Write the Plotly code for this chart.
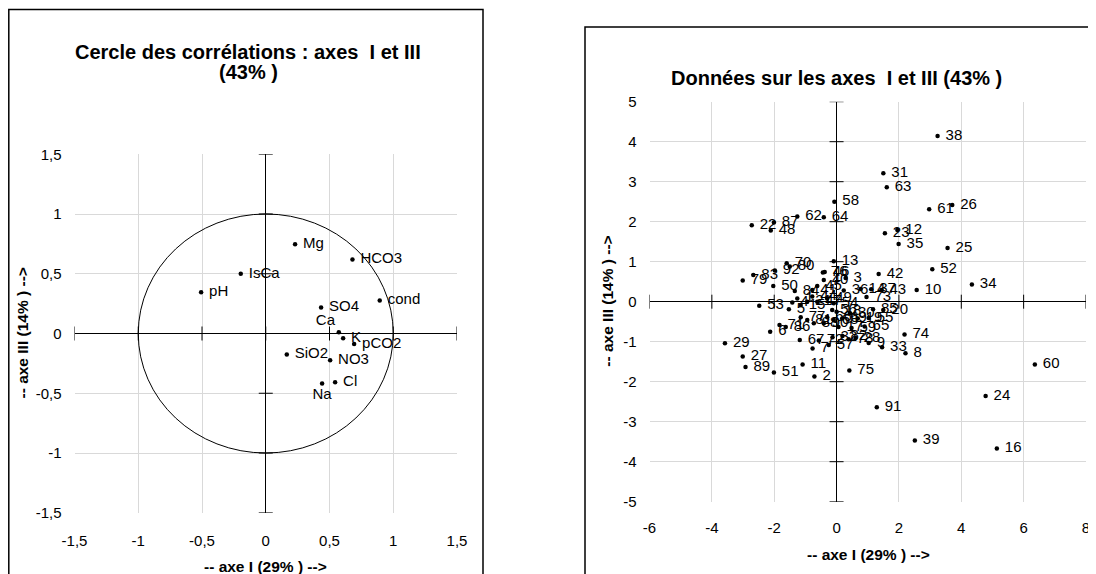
import plotly.graph_objects as go

# ---------------- Left chart: correlation circle (axes I and III) ----------------
var_names = ["Mg", "HCO3", "IsCa", "pH", "cond", "SO4", "Ca", "K", "pCO2", "SiO2", "NO3", "Cl", "Na"]
var_x = [0.23, 0.68, -0.196, -0.507, 0.894, 0.434, 0.573, 0.607, 0.693, 0.165, 0.505, 0.544, 0.442]
var_y = [0.746, 0.62, 0.50, 0.346, 0.276, 0.217, 0.01, -0.04, -0.088, -0.175, -0.223, -0.408, -0.419]
var_pos = ["middle right"] * 6 + ["top left"] + ["middle right"] * 5 + ["bottom center"]

left_ticks = [-1.5, -1, -0.5, 0, 0.5, 1, 1.5]
left_ticktext = ["-1,5", "-1", "-0,5", "0", "0,5", "1", "1,5"]

# ---------------- Right chart: observations on axes I and III ----------------
obs_labels = [str(i) for i in range(1, 93)]
obs_x = [-1.26, -0.71, 0.29, -1.42, -1.53, -2.13, -0.77, 2.21, 1.03, 2.57,
         -1.09, 1.95, -0.09, 0.77, -1.15, 5.14, 0.06, 0.00, 0.68, 1.50,
         -0.94, -2.72, 1.55, 4.78, 3.56, 3.71, -3.01, 0.61, -3.58, 0.43,
         1.50, -0.13, 1.46, 4.34, 1.99, 0.23, 1.11, 3.24, 2.51, -0.41,
         -0.78, 1.35, 1.44, -0.78, -0.62, -0.38, -0.62, -2.11, -0.30, -2.03,
         -2.01, 3.07, -2.48, -0.09, 1.03, -0.14, -0.25, -0.07, 0.48, 6.36,
         2.97, -1.26, 1.61, -0.41, 0.90, -0.30, -1.18, -0.09, 0.18, -1.60,
         -1.83, -0.57, 0.96, 2.18, 0.41, -0.44, -1.15, 0.39, -3.01, -1.50,
         -0.94, 0.19, -2.67, -1.34, 1.17, -1.63, -2.01, -0.73, -2.92, -0.41,
         1.29, -1.98]
obs_y = [0.08, -1.87, 0.59, -0.02, -0.19, -0.75, -1.17, -1.29, -1.03, 0.29,
         -1.57, 1.79, 1.01, 0.32, -0.08, -3.67, -0.63, -0.25, -0.42, -0.21,
         0.00, 1.91, 1.71, -2.36, 1.34, 2.42, -1.37, -0.91, -1.04, -0.29,
         3.21, -0.89, -1.14, 0.43, 1.44, 0.28, 0.31, 4.14, -3.47, 0.54,
         0.29, 0.69, 0.29, 0.13, 0.39, 0.74, 0.00, 1.78, 0.08, 0.39,
         -1.77, 0.81, -0.10, -0.04, -0.41, -0.21, -1.08, 2.50, -0.66, -1.57,
         2.31, 2.13, 2.86, 2.11, -0.62, -0.39, -0.96, -0.46, -0.42, 0.96,
         -0.58, -0.97, 0.12, -0.82, -1.72, 0.73, -0.39, -0.94, 0.53, 0.88,
         -0.46, -0.86, 0.67, 0.27, -0.19, -0.63, 1.98, -0.54, -1.63, -0.54,
         -2.64, 0.78]

right_xticks = [-6, -4, -2, 0, 2, 4, 6, 8]
right_yticks = [-5, -4, -3, -2, -1, 0, 1, 2, 3, 4, 5]

FONT = "Liberation Sans, Arial, sans-serif"
OFF = 8                      # page body margin
W, H = 1096 - OFF, 574 - OFF  # figure size so that it fills the window


def px(x):  # page pixel -> paper x
    return (x - OFF) / W


def py(y):  # page pixel -> paper y
    return 1 - (y - OFF) / H


fig = go.Figure()

# tick crosses on the zero axes (left)
fig.add_trace(go.Scatter(x=left_ticks, y=[0] * len(left_ticks), mode="markers",
                         marker=dict(symbol="line-ns", size=10, line=dict(color="black", width=1)),
                         xaxis="x", yaxis="y", hoverinfo="skip", showlegend=False))
fig.add_trace(go.Scatter(x=[0] * len(left_ticks), y=left_ticks, mode="markers",
                         marker=dict(symbol="line-ew", size=10, line=dict(color="black", width=1)),
                         xaxis="x", yaxis="y", hoverinfo="skip", showlegend=False))
# variables
fig.add_trace(go.Scatter(x=var_x, y=var_y, mode="markers+text",
                         text=[" " + n if p == "middle right" else n for n, p in zip(var_names, var_pos)],
                         textposition=var_pos,
                         textfont=dict(family=FONT, size=15, color="black"),
                         marker=dict(color="black", size=4.5),
                         xaxis="x", yaxis="y", hoverinfo="skip", showlegend=False, cliponaxis=False))

# tick crosses on the zero axes (right)
fig.add_trace(go.Scatter(x=right_xticks, y=[0] * len(right_xticks), mode="markers",
                         marker=dict(symbol="line-ns", size=10, line=dict(color="black", width=1)),
                         xaxis="x2", yaxis="y2", hoverinfo="skip", showlegend=False))
fig.add_trace(go.Scatter(x=[0] * len(right_yticks), y=right_yticks, mode="markers",
                         marker=dict(symbol="line-ew", size=10, line=dict(color="black", width=1)),
                         xaxis="x2", yaxis="y2", hoverinfo="skip", showlegend=False))
# observations
fig.add_trace(go.Scatter(x=obs_x, y=obs_y, mode="markers+text",
                         text=[" " + s for s in obs_labels], textposition="middle right",
                         textfont=dict(family=FONT, size=15, color="black"),
                         marker=dict(color="black", size=4.5),
                         xaxis="x2", yaxis="y2", hoverinfo="skip", showlegend=False, cliponaxis=False))

# unit circle
fig.add_shape(type="circle", xref="x", yref="y", x0=-1, y0=-1, x1=1, y1=1,
              line=dict(color="black", width=1), layer="between")

# panel borders
fig.add_shape(type="rect", xref="paper", yref="paper", x0=px(8.8), x1=px(483), y0=-0.05, y1=py(9.5),
              line=dict(color="black", width=1.5))
fig.add_shape(type="rect", xref="paper", yref="paper", x0=px(585), x1=1.05, y0=-0.05, y1=py(27),
              line=dict(color="black", width=1.5))

grid = "#d9d9d9"
common = dict(showgrid=True, gridcolor=grid, gridwidth=1, zeroline=True, zerolinecolor="black",
              zerolinewidth=1, showline=False, ticks="outside", tickcolor="rgba(0,0,0,0)",
              automargin=False,
              tickfont=dict(family=FONT, size=15, color="black"), fixedrange=True)

fig.update_layout(
    width=W, height=H, margin=dict(l=0, r=0, t=0, b=0, pad=0, autoexpand=False),
    paper_bgcolor="white", plot_bgcolor="white", showlegend=False,
    xaxis=dict(domain=[px(74.5), px(457)], range=[-1.5, 1.5], tickvals=left_ticks, ticktext=left_ticktext,
               anchor="y", ticklen=14, **common),
    yaxis=dict(domain=[py(512.75), py(154.25)], range=[-1.5, 1.5], tickvals=left_ticks,
               ticktext=left_ticktext, anchor="x", ticklen=9, **common),
    xaxis2=dict(domain=[px(649.5), px(1086)], range=[-6, 8], tickvals=right_xticks,
                ticktext=[str(v) for v in right_xticks], anchor="y2", ticklen=12, **common),
    yaxis2=dict(domain=[py(501.7), py(101.7)], range=[-5, 5], tickvals=right_yticks,
                ticktext=[str(v) for v in right_yticks], anchor="x2", ticklen=9, **common),
)


def ann(text, x, y, size, angle=0):
    fig.add_annotation(text=text, x=px(x), y=py(y), xref="paper", yref="paper",
                       showarrow=False, xanchor="center", yanchor="middle", textangle=angle,
                       font=dict(family=FONT, size=size, color="black"))


ann("<b>Cercle des corrélations : axes  I et III</b>", 248, 52, 20)
ann("<b>(43% )</b>", 248, 72, 20)
ann("<b>Données sur les axes  I et III (43% )</b>", 836, 78, 20)
ann("<b>-- axe I (29% ) --></b>", 265, 566, 15.5)
ann("<b>-- axe I (29% ) --></b>", 868, 554, 15.5)
ann("<b>-- axe III (14% ) --></b>", 22, 333.5, 15.5, -90)
ann("<b>-- axe III (14% ) --></b>", 608, 301.7, 15.5, -90)

fig.write_html("out.html")
